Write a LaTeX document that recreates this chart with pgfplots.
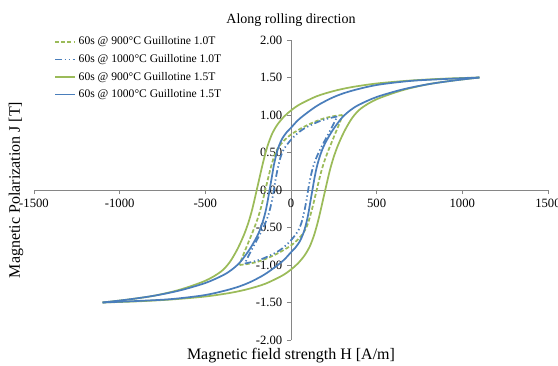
\documentclass[border=0pt]{standalone}
\usepackage{pgfplots}
\pgfplotsset{compat=1.18}
\usepackage{fontspec}
\setmainfont{Liberation Serif}
\definecolor{exgreen}{HTML}{9BBB59}
\definecolor{exblue}{HTML}{4A7EBB}
\definecolor{axgray}{HTML}{868686}
\begin{document}
\begin{tikzpicture}
\path[use as bounding box] (-25.5pt,-18.75pt) rectangle (393pt,255pt);
\begin{axis}[
  scale only axis, width=385.5pt, height=225pt,
  xmin=-1500, xmax=1500, ymin=-2, ymax=2,
  axis lines=middle, axis line style={-, draw=axgray, line width=0.6pt},
  clip=false,
  hide obscured x ticks=false, hide obscured y ticks=false,
  xtick={-1500,-1000,-500,0,500,1000,1500},
  xticklabels={-1500,-1000,-500,0,500,1000,1500},
  ytick={-2,-1.5,-1,-0.5,0,0.5,1,1.5,2},
  yticklabels={-2.00,-1.50,-1.00,-0.50,0.00,0.50,1.00,1.50,2.00},
  tick align=outside, major tick length=3pt,
  tick style={draw=axgray, line width=0.6pt},
  ticklabel style={font=\fontsize{9.5}{10}\selectfont, text=black},
  legend style={at={(rel axis cs:0.039,1.02)}, anchor=north west, draw=none, fill=none,
    font=\fontsize{8.7}{9.5}\selectfont, row sep=1.6pt, inner sep=0pt},
  legend cell align=left,
  legend image code/.code={\draw[#1] (0pt,0pt) -- (15pt,0pt);},
  every axis plot/.append style={line width=1.3pt},
]
\addlegendimage{exgreen, line width=1.3pt, dash pattern=on 3pt off 1.6pt}
\addlegendentry{60s @ 900°C Guillotine 1.0T}
\addlegendimage{exblue, line width=1.3pt, dash pattern=on 5pt off 2pt on 1pt off 2pt on 1pt off 2pt}
\addlegendentry{60s @ 1000°C Guillotine 1.0T}
\addlegendimage{exgreen, line width=1.3pt}
\addlegendentry{60s @ 900°C Guillotine 1.5T}
\addlegendimage{exblue, line width=1.3pt}
\addlegendentry{60s @ 1000°C Guillotine 1.5T}
% green 1.0T
\addplot[exgreen, dash pattern=on 3pt off 1.6pt, smooth, tension=0.5, forget plot] coordinates {
(300,1.00) (250,0.985) (200,0.96) (150,0.92) (100,0.87) (50,0.81) (0,0.74) (-40,0.66) (-70,0.58) (-95,0.47) (-120,0.28) (-150,0.00) (-170,-0.19) (-190,-0.35) (-215,-0.51) (-240,-0.65) (-265,-0.79) (-285,-0.90) (-300,-1.00)};
\addplot[exgreen, dash pattern=on 3pt off 1.6pt, smooth, tension=0.5, forget plot] coordinates {
(-300,-1.00) (-250,-0.985) (-200,-0.96) (-150,-0.92) (-100,-0.87) (-50,-0.81) (0,-0.74) (40,-0.66) (70,-0.58) (95,-0.47) (120,-0.28) (150,0.00) (170,0.19) (190,0.35) (215,0.51) (240,0.65) (265,0.79) (285,0.90) (300,1.00)};
% blue 1.0T
\addplot[exblue, dash pattern=on 5pt off 2pt on 1pt off 2pt on 1pt off 2pt, smooth, tension=0.5, forget plot] coordinates {
(270,0.98) (220,0.955) (170,0.92) (120,0.87) (70,0.81) (30,0.74) (0,0.67) (-25,0.60) (-45,0.53) (-62,0.43) (-78,0.28) (-90,0.14) (-100,0.00) (-112,-0.15) (-128,-0.30) (-148,-0.43) (-172,-0.55) (-200,-0.67) (-235,-0.82) (-270,-0.98)};
\addplot[exblue, dash pattern=on 5pt off 2pt on 1pt off 2pt on 1pt off 2pt, smooth, tension=0.5, forget plot] coordinates {
(-270,-0.98) (-220,-0.955) (-170,-0.92) (-120,-0.87) (-70,-0.81) (-30,-0.74) (0,-0.67) (25,-0.60) (45,-0.53) (62,-0.43) (78,-0.28) (90,-0.14) (100,0.00) (112,0.15) (128,0.30) (148,0.43) (172,0.55) (200,0.67) (235,0.82) (270,0.98)};
% green 1.5T
\addplot[exgreen, smooth, tension=0.5, forget plot] coordinates {
(1100,1.50) (900,1.485) (700,1.46) (500,1.42) (350,1.37) (250,1.32) (150,1.25) (50,1.14) (0,1.06) (-40,0.98) (-80,0.87) (-110,0.75) (-135,0.60) (-155,0.44) (-170,0.30) (-185,0.15) (-200,0.00) (-215,-0.15) (-230,-0.29) (-248,-0.43) (-268,-0.56) (-290,-0.68) (-320,-0.82) (-360,-0.97) (-410,-1.09) (-500,-1.21) (-650,-1.33) (-800,-1.41) (-950,-1.46) (-1100,-1.50)};
\addplot[exgreen, smooth, tension=0.5, forget plot] coordinates {
(-1100,-1.50) (-900,-1.485) (-700,-1.46) (-500,-1.42) (-350,-1.37) (-250,-1.32) (-150,-1.25) (-50,-1.14) (0,-1.06) (40,-0.98) (80,-0.87) (110,-0.75) (135,-0.60) (155,-0.44) (170,-0.30) (185,-0.15) (200,0.00) (215,0.15) (230,0.29) (248,0.43) (268,0.56) (290,0.68) (320,0.82) (360,0.97) (410,1.09) (500,1.21) (650,1.33) (800,1.41) (950,1.46) (1100,1.50)};
% blue 1.5T
\addplot[exblue, smooth, tension=0.5, forget plot] coordinates {
(1100,1.50) (900,1.48) (700,1.455) (500,1.40) (350,1.32) (250,1.24) (150,1.12) (50,0.95) (0,0.83) (-25,0.77) (-50,0.69) (-70,0.59) (-85,0.48) (-100,0.33) (-112,0.17) (-125,0.00) (-138,-0.17) (-152,-0.32) (-170,-0.46) (-190,-0.58) (-215,-0.69) (-250,-0.82) (-300,-0.97) (-350,-1.07) (-400,-1.14) (-500,-1.24) (-650,-1.34) (-800,-1.41) (-950,-1.46) (-1100,-1.50)};
\addplot[exblue, smooth, tension=0.5, forget plot] coordinates {
(-1100,-1.50) (-900,-1.48) (-700,-1.455) (-500,-1.40) (-350,-1.32) (-250,-1.24) (-150,-1.12) (-50,-0.95) (0,-0.83) (25,-0.77) (50,-0.69) (70,-0.59) (85,-0.48) (100,-0.33) (112,-0.17) (125,0.00) (138,0.17) (152,0.32) (170,0.46) (190,0.58) (215,0.69) (250,0.82) (300,0.97) (350,1.07) (400,1.14) (500,1.24) (650,1.34) (800,1.41) (950,1.46) (1100,1.50)};
\node[font=\fontsize{10.5}{12}\selectfont] at (rel axis cs:0.5,1) [yshift=15pt] {Along rolling direction};
\node[font=\fontsize{12}{14}\selectfont] at (rel axis cs:0.5,0) [yshift=-12pt] {Magnetic field strength H [A/m]};
\node[font=\fontsize{12}{14}\selectfont, rotate=90, yshift=13.5pt] at (rel axis cs:0,0.5) {Magnetic Polarization J [T]};
\end{axis}
\end{tikzpicture}
\end{document}
